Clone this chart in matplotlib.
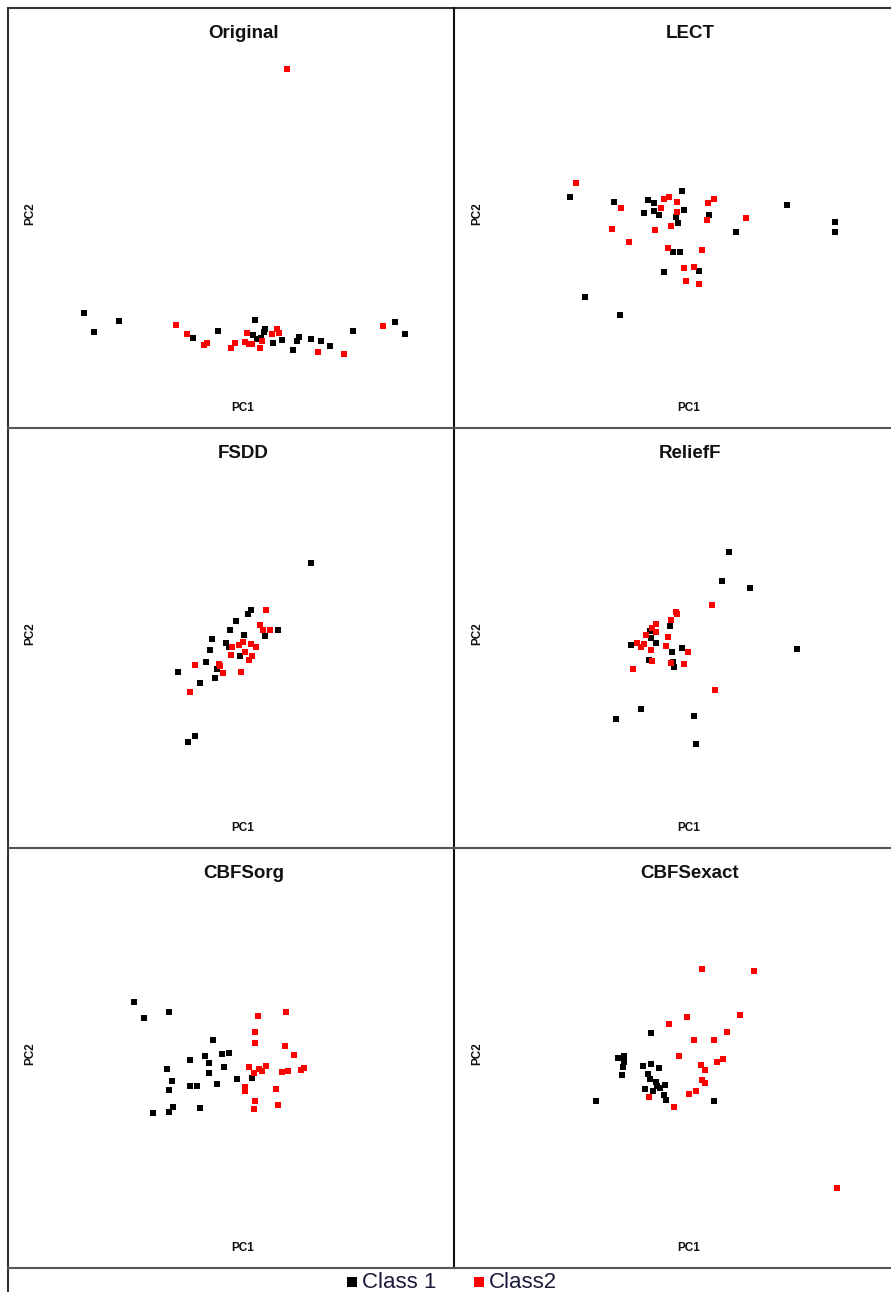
import matplotlib
matplotlib.use("Agg")
import matplotlib.pyplot as plt
from matplotlib.lines import Line2D

W, H = 891, 1292
plt.rcParams['font.family'] = ['Liberation Sans', 'DejaVu Sans']

titles = ["Original", "LECT", "FSDD", "ReliefF", "CBFSorg", "CBFSexact"]
class_labels = ["Class 1", "Class2"]
class_colors = ["#000000", "#ff0000"]

# ---- data (in pixel units of the page) ----
orig_c1_x = [84, 94, 118.7, 193.3, 218.3, 254.7, 252.7, 257.3, 261, 265, 264, 272.7, 281.7, 292.7, 296.7, 299.3, 311, 321, 330, 352.7, 394.7, 404.7]
orig_c1_y = [313.3, 331.7, 321.3, 337.7, 330.7, 319.7, 334.7, 339.3, 338.3, 329.3, 331.7, 342.7, 340, 349.7, 340.7, 336.7, 338.7, 341, 346, 331.3, 322, 334.3]
orig_c2_x = [176, 187, 204, 206.7, 231.3, 234.7, 245, 247.3, 248.7, 251.7, 260.3, 262.3, 271.7, 277.3, 279, 317.7, 344.3, 382.7, 287]
orig_c2_y = [325, 334.3, 345, 343.3, 347.7, 343.3, 341.7, 333.3, 344.3, 344.3, 348, 341, 334.3, 329.3, 333.3, 351.7, 354.3, 326.3, 69]

lect_c1_x = [570, 613.7, 647.7, 654.3, 644.3, 653.7, 659.3, 682.3, 684, 676.3, 677.7, 708.7, 735.7, 787, 835, 834.7, 673.3, 679.7, 664.3, 698.7, 585, 619.7]
lect_c1_y = [196.7, 201.7, 200.3, 203.3, 213.3, 211, 214.7, 190.7, 210.3, 217.3, 223, 215.3, 231.7, 204.7, 221.7, 232.3, 252, 251.7, 271.7, 270.7, 296.7, 314.7]
lect_c2_x = [576.3, 621, 612.3, 629, 654.7, 660.7, 664.3, 669, 676.7, 677.3, 671, 707.7, 713.7, 707, 745.7, 668.3, 702.3, 683.7, 694.3, 685.7, 699]
lect_c2_y = [182.7, 207.7, 228.7, 241.7, 230.3, 207.7, 198.7, 197, 201.7, 212.3, 225.7, 202.7, 198.7, 219.7, 217.7, 247.7, 250, 267.7, 267, 280.7, 283.7]

fsdd_c1_x = [311, 251, 248.3, 236.3, 230, 277.7, 265, 244.3, 212.3, 226, 229, 210, 240, 206, 217.3, 178, 215, 200, 195, 188]
fsdd_c1_y = [562.7, 610.3, 613.7, 621, 630, 630, 635.7, 635, 639.3, 642.7, 647.3, 650, 655.7, 662.3, 669.3, 672.3, 678.3, 683.3, 736, 741.7]
fsdd_c2_x = [266.3, 259.7, 262.7, 269.7, 242.7, 239.3, 232.3, 251.3, 256.3, 244.7, 231, 251.7, 249.3, 195, 218.7, 220.3, 223.3, 241.3, 190]
fsdd_c2_y = [610, 625.3, 630.3, 630.3, 642, 644.7, 646.7, 644.3, 647.3, 652, 655.3, 656, 660.3, 665, 664, 665.7, 672.7, 671.7, 692]

relf_c1_x = [729, 722, 750.3, 797, 670.3, 650, 650.7, 656, 630.7, 681.7, 671.7, 648.7, 672.7, 674, 641.3, 616.3, 694.3, 696]
relf_c1_y = [552, 581, 587.7, 649, 626, 630.7, 637.7, 643, 645, 647.7, 652, 660.3, 662.3, 666.7, 709.3, 719, 715.7, 744.3]
relf_c2_x = [711.7, 675.7, 677.3, 670.7, 655.7, 652, 655.7, 646, 667.7, 637.3, 644, 641.3, 665.7, 651.3, 688.3, 652.3, 671, 684, 632.7, 715.3]
relf_c2_y = [605.3, 611.7, 613.7, 619.7, 624, 627.7, 632, 635, 637.3, 642.7, 644.3, 646.7, 645.7, 650.3, 652.3, 661, 663.3, 664, 668.7, 690]

cbfo_c1_x = [133.7, 143.7, 168.7, 213.3, 221.7, 228.7, 190, 205, 209.3, 224.3, 167, 209, 171.7, 236.7, 251.7, 189.7, 197.3, 217, 168.7, 173, 200, 152.7, 168.7]
cbfo_c1_y = [1002.3, 1018.3, 1012.3, 1040, 1054.3, 1053.3, 1060.3, 1056, 1063, 1067.3, 1069.3, 1073, 1081, 1079.3, 1078, 1085.7, 1085.7, 1084.3, 1090.3, 1107.3, 1107.7, 1112.7, 1112.3]
cbfo_c2_x = [258, 286.3, 255.3, 255.3, 284.7, 294.3, 249.3, 265.7, 259.3, 261.7, 254, 282.3, 287.7, 301.3, 304.3, 245.3, 244.7, 276.3, 254.7, 277.7, 254.3]
cbfo_c2_y = [1016.3, 1012.3, 1032.3, 1043.3, 1046, 1055.3, 1066.7, 1066, 1069.3, 1071, 1073.3, 1072, 1071, 1069.7, 1067.7, 1087.3, 1091, 1089.3, 1100.7, 1105.3, 1109.3]

cbfe_c1_x = [650.7, 617.7, 624.3, 624.3, 623.3, 622, 643.3, 651, 659, 647.7, 650, 656, 657, 660.3, 665, 645, 652.7, 664.3, 666, 596, 714]
cbfe_c1_y = [1033, 1058.3, 1056.3, 1062.3, 1067.3, 1074.7, 1066.3, 1064.3, 1067.7, 1074, 1079.3, 1082.3, 1086, 1087.7, 1085, 1089, 1091.3, 1094.7, 1099.7, 1100.7, 1101]
cbfe_c2_x = [702.3, 753.7, 739.7, 687.3, 669, 727, 694, 713.7, 679.3, 722.7, 717.3, 700.7, 704.7, 702.3, 704.7, 695.7, 688.7, 648.7, 674, 837]
cbfe_c2_y = [968.7, 971.3, 1015.3, 1017.3, 1024.3, 1032.3, 1040.3, 1040, 1056, 1059.3, 1061.7, 1064.7, 1069.7, 1080.3, 1083, 1091, 1094.3, 1097, 1107.3, 1188]

panels = [
    (orig_c1_x, orig_c1_y, orig_c2_x, orig_c2_y),
    (lect_c1_x, lect_c1_y, lect_c2_x, lect_c2_y),
    (fsdd_c1_x, fsdd_c1_y, fsdd_c2_x, fsdd_c2_y),
    (relf_c1_x, relf_c1_y, relf_c2_x, relf_c2_y),
    (cbfo_c1_x, cbfo_c1_y, cbfo_c2_x, cbfo_c2_y),
    (cbfe_c1_x, cbfe_c1_y, cbfe_c2_x, cbfe_c2_y),
]

# ---- layout (pixels) ----
col_edges = [(8, 453.5), (453.5, 899)]
row_edges = [(8, 427.5), (427.5, 847.5), (847.5, 1267.5)]

fig = plt.figure(figsize=(W / 100, H / 100), dpi=100)
fig.patch.set_facecolor("white")

for i, (c1x, c1y, c2x, c2y) in enumerate(panels):
    r, c = divmod(i, 2)
    x0, x1 = col_edges[c]
    y0, y1 = row_edges[r]
    ax = fig.add_axes([x0 / W, 1 - y1 / H, (x1 - x0) / W, (y1 - y0) / H])
    ax.set_xlim(x0, x1)
    ax.set_ylim(y1, y0)
    ax.axis("off")
    ax.scatter(c1x, c1y, marker="s", s=14, c=class_colors[0], linewidths=0)
    ax.scatter(c2x, c2y, marker="s", s=14, c=class_colors[1], linewidths=0)
    # title and axis labels
    cx = 243.5 if c == 0 else 690
    ax.text(cx, y0 + 26, titles[i], ha="center", va="center",
            fontsize=13.5, fontweight="bold", color="#111111")
    ax.text(cx - 1, y1 - 19.5, "PC1", ha="center", va="center",
            fontsize=8.5, fontweight="bold", color="#111111")
    px = 30 if c == 0 else 477
    ax.text(px, (y0 + y1) / 2 - 4, "PC2", ha="center", va="center",
            rotation=90, fontsize=8.5, fontweight="bold", color="#111111")

# overlay for frame lines and legend
ov = fig.add_axes([0, 0, 1, 1], zorder=-1)
ov.set_xlim(0, W)
ov.set_ylim(H, 0)
ov.axis("off")
lc = "#333333"
lw = 1.5
ov.add_line(Line2D([8, 8], [8, 1300], color=lc, lw=lw))
ov.add_line(Line2D([8, 900], [8, 8], color=lc, lw=lw))
ov.add_line(Line2D([453.5, 453.5], [8, 1267.5], color="#111111", lw=lw))
for yy in [427.5, 847.5, 1267.5]:
    ov.add_line(Line2D([8, 900], [yy, yy], color="#555555", lw=lw))

# legend
ov.scatter([351.7], [1282], marker="s", s=60, c=class_colors[0], linewidths=0)
ov.scatter([479.3], [1282], marker="s", s=60, c=class_colors[1], linewidths=0)
ov.text(361.5, 1288, class_labels[0], ha="left", va="baseline", fontsize=16, color="#1a1a3a")
ov.text(489, 1288, class_labels[1], ha="left", va="baseline", fontsize=16, color="#1a1a3a")

fig.savefig("out.png", dpi=100, facecolor="white")
